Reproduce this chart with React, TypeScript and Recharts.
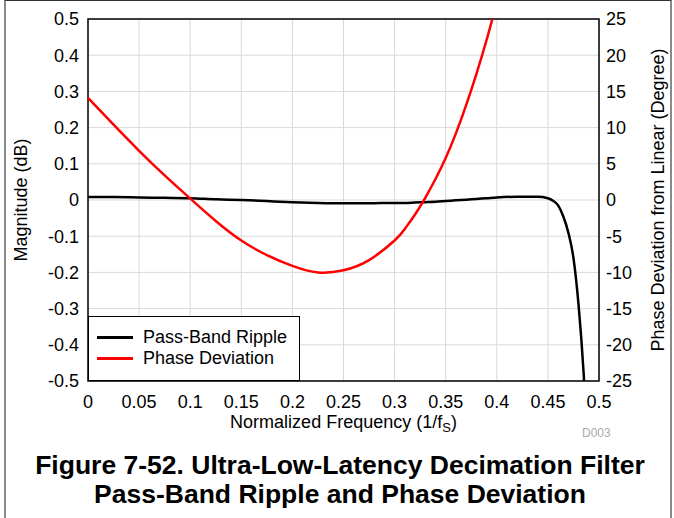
import React from "react";
import {
  ComposedChart,
  Line,
  XAxis,
  YAxis,
  CartesianGrid,
  ReferenceArea,
} from "recharts";

const frequency = [
  0, 0.025, 0.05, 0.075, 0.1, 0.125, 0.15, 0.175, 0.2, 0.225, 0.25, 0.275, 0.3,
  0.31, 0.32, 0.33, 0.34, 0.35, 0.36, 0.37, 0.38, 0.39, 0.4, 0.42, 0.44, 0.45,
  0.455, 0.46, 0.465, 0.47, 0.475, 0.48, 0.485, 0.49,
];
const passBandRipple = [
  0.008, 0.008, 0.007, 0.006, 0.005, 0.002, 0.0, -0.003, -0.006, -0.008,
  -0.009, -0.009, -0.008, -0.008, -0.007, -0.006, -0.005, -0.003, -0.001,
  0.001, 0.003, 0.005, 0.007, 0.009, 0.009, 0.005, -0.002, -0.015, -0.045,
  -0.09, -0.16, -0.29, -0.48, -0.75,
];
const phaseDeviation: (number | null)[] = [
  14.1, 10.4, 6.8, 3.4, 0.2, -2.9, -5.6, -7.6, -9.1, -10.0, -9.7, -8.3, -5.6,
  -4.0, -2.0, 0.3, 2.9, 5.8, 9.2, 13.1, 17.4, 22.1, 27.3, null, null, null,
  null, null, null, null, null, null, null, null,
];
const xTicks = [0, 0.05, 0.1, 0.15, 0.2, 0.25, 0.3, 0.35, 0.4, 0.45, 0.5];
const leftTicks = [-0.5, -0.4, -0.3, -0.2, -0.1, 0, 0.1, 0.2, 0.3, 0.4, 0.5];
const rightTicks = [-25, -20, -15, -10, -5, 0, 5, 10, 15, 20, 25];
const legendItems = [
  { name: "Pass-Band Ripple", color: "#000" },
  { name: "Phase Deviation", color: "#ff0000" },
];

const data = frequency.map((f, i) => ({
  f,
  ripple: passBandRipple[i],
  phase: phaseDeviation[i],
}));

const FONT = "'Liberation Sans', Arial, sans-serif";
const tickStyle = { fontSize: 18, fill: "#000", fontFamily: FONT };

export default function App() {
  return (
    <div
      style={{
        position: "absolute",
        left: 0,
        top: 0,
        width: 674,
        height: 518,
        background: "#fff",
        overflow: "hidden",
      }}
    >
      <div
        style={{
          position: "absolute",
          left: 4,
          top: 0,
          width: 664,
          height: 518,
          borderLeft: "2px solid #8a8a8a",
          borderRight: "2px solid #8a8a8a",
          borderTop: "1px solid #333",
        }}
      />
      <ComposedChart
        width={674}
        height={518}
        data={data}
        margin={{ top: 19, right: 0, bottom: 77, left: 0 }}
        style={{ position: "absolute", left: 0, top: 0 }}
      >
        <CartesianGrid stroke="#d9d9d9" strokeWidth={1} yAxisId="left" />
        <XAxis
          dataKey="f"
          type="number"
          domain={[0, 0.5]}
          ticks={xTicks}
          tickFormatter={(v: number) => String(v)}
          tick={tickStyle}
          tickLine={false}
          axisLine={false}
          tickMargin={8}
          height={60}
          interval={0}
        />
        <YAxis
          yAxisId="left"
          domain={[-0.5, 0.5]}
          ticks={leftTicks}
          allowDataOverflow
          tickFormatter={(v: number) => String(v)}
          tick={tickStyle}
          tickLine={false}
          axisLine={false}
          tickMargin={3}
          width={88}
          interval={0}
          label={{
            value: "Magnitude (dB)",
            angle: -90,
            position: "insideLeft",
            offset: 21,
            style: { textAnchor: "middle", fontSize: 18, fill: "#000", fontFamily: FONT },
          }}
        />
        <YAxis
          yAxisId="right"
          orientation="right"
          domain={[-25, 25]}
          ticks={rightTicks}
          allowDataOverflow
          tick={{ ...tickStyle, textAnchor: "start" }}
          tickLine={false}
          axisLine={false}
          tickMargin={1}
          width={75}
          interval={0}
          label={{
            value: "Phase Deviation from Linear (Degree)",
            angle: -90,
            position: "insideRight",
            offset: 16,
            style: { textAnchor: "middle", fontSize: 18, fill: "#000", fontFamily: FONT },
          }}
        />
        <ReferenceArea
          yAxisId="left"
          x1={0}
          x2={0.5}
          y1={-0.5}
          y2={0.5}
          fill="none"
          stroke="#000"
          strokeWidth={1.5}
          ifOverflow="visible"
        />
        <Line
          yAxisId="left"
          dataKey="ripple"
          stroke="#000"
          strokeWidth={2.5}
          dot={false}
          type="monotone"
          isAnimationActive={false}
        />
        <Line
          yAxisId="right"
          dataKey="phase"
          stroke="#ff0000"
          strokeWidth={2.5}
          dot={false}
          type="natural"
          isAnimationActive={false}
          connectNulls={false}
        />
      </ComposedChart>
      <div
        style={{
          position: "absolute",
          left: 88,
          top: 316,
          width: 212,
          height: 65,
          border: "1.5px solid #000",
          background: "#fff",
          boxSizing: "border-box",
          fontFamily: FONT,
          fontSize: 18,
          color: "#000",
        }}
      >
        {legendItems.map((it, i) => (
          <div
            key={it.name}
            style={{
              position: "absolute",
              left: 8,
              top: 10 + i * 21,
              display: "flex",
              alignItems: "center",
              height: 21,
            }}
          >
            <div style={{ width: 36, height: 3, background: it.color }} />
            <span style={{ marginLeft: 10, whiteSpace: "nowrap" }}>{it.name}</span>
          </div>
        ))}
      </div>
      <div
        style={{
          position: "absolute",
          left: 0,
          width: 687,
          top: 412,
          textAlign: "center",
          fontFamily: FONT,
          fontSize: 18,
          color: "#000",
          whiteSpace: "nowrap",
        }}
      >
        Normalized Frequency (1/f
        <sub style={{ fontSize: 13, verticalAlign: "-4px" }}>S</sub>)
      </div>
      <div
        style={{
          position: "absolute",
          left: 582,
          top: 426,
          fontFamily: FONT,
          fontSize: 12,
          color: "#aaaaaa",
        }}
      >
        D003
      </div>
      <div
        style={{
          position: "absolute",
          left: 0,
          width: 680,
          top: 451,
          textAlign: "center",
          fontFamily: FONT,
          fontWeight: "bold",
          fontSize: 26.5,
          lineHeight: "29px",
          color: "#000",
          whiteSpace: "nowrap",
        }}
      >
        Figure 7-52. Ultra-Low-Latency Decimation Filter
        <br />
        Pass-Band Ripple and Phase Deviation
      </div>
    </div>
  );
}
